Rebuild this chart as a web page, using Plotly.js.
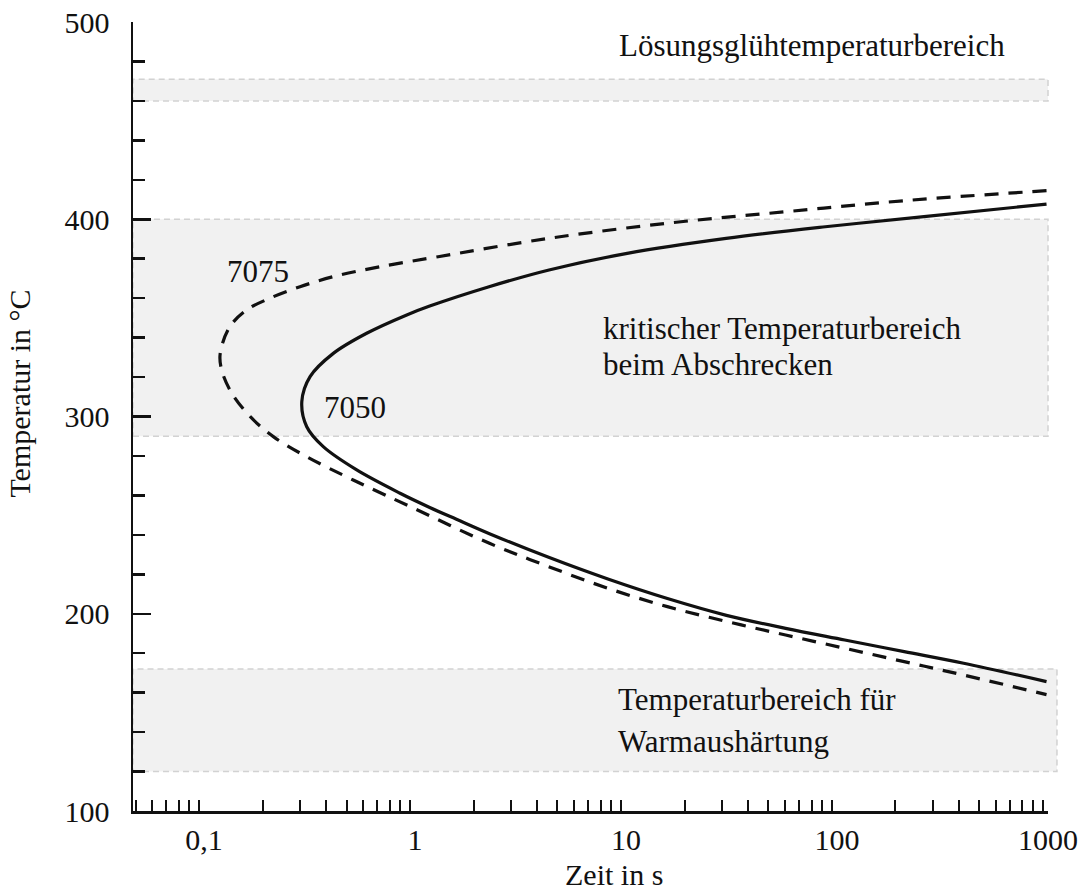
<!DOCTYPE html>
<html>
<head>
<meta charset="utf-8">
<script src="https://cdn.plot.ly/plotly-3.0.1.min.js"></script>
<style>
  html, body { margin: 0; padding: 0; background: #fff; }
  #chart { width: 1089px; height: 890px; }
</style>
</head>
<body>
<div id="chart"></div>
<script>
// ZTU-Nasenkurven (Ausscheidungsbeginn) der Legierungen 7050 und 7075
// Zeit in s, Temperatur in °C – Verlauf von oben rechts über die Nase nach unten rechts
const time7050 = [1040, 273, 93, 31.5, 10.7, 4.56, 2.37, 1.24, 0.965, 0.623, 0.433, 0.336, 0.307, 0.324, 0.388, 0.559, 0.897, 1.24, 1.66, 2.38, 4.54, 8.67, 16.6, 31.6, 60.3, 115, 220, 421, 1040];
const temp7050 = [407.7, 401.3, 396.2, 390.3, 382.7, 374.3, 365.8, 356.0, 351.5, 342.2, 332, 320.2, 307.5, 294.8, 284.7, 272.9, 261.1, 253.9, 247.9, 240.6, 228.6, 217.6, 207.7, 199.2, 192.6, 186.7, 180.8, 174.9, 165.6];

const time7075 = [1040, 220, 60.3, 16.6, 4.54, 1.36, 0.695, 0.433, 0.301, 0.217, 0.168, 0.140, 0.126, 0.128, 0.143, 0.175, 0.225, 0.324, 0.538, 1.04, 2.38, 4.54, 8.67, 16.6, 31.6, 60.3, 115, 220, 421, 1040];
const temp7075 = [414.5, 409.4, 403.8, 398, 390.3, 381.0, 375.6, 370.9, 365.8, 360, 354, 345.5, 332, 323.6, 311.8, 299.9, 289.8, 279.6, 267.8, 253.5, 235.7, 223.9, 212.9, 203.6, 196.1, 189.2, 182.5, 175.7, 168.9, 159];

// Temperaturbereiche (unten / oben, °C)
const bandNames = ["Lösungsglühen", "kritisch beim Abschrecken", "Warmaushärtung"];
const bandLow  = [460, 290, 120];
const bandHigh = [471, 400, 172];

// Achsenbeschriftung der logarithmischen Zeitachse
const decadeValues = [0.1, 1, 10, 100, 1000];
const decadeLabels = ["0,1", "1", "10", "100", "1000"];
const yTickValues = [100, 200, 300, 400, 500];

// alle Teilstriche 1..9 je Dekade, beschriftet nur die Dekaden
const xTickVals = [];
const xTickText = [];
[0.01, 0.1, 1, 10, 100].forEach(d => {
  for (let k = 1; k <= 9; k++) {
    const v = +(k * d).toPrecision(3);
    if (v < 0.05) continue;
    xTickVals.push(v);
    const idx = decadeValues.findIndex(dv => Math.abs(dv - v) < 1e-9);
    xTickText.push(idx >= 0 ? decadeLabels[idx] : "");
  }
});
xTickVals.push(1000);
xTickText.push(decadeLabels[4]);

const FONT = "Liberation Serif, Times New Roman, serif";
const INK = "#111111";

const traces = [
  {
    x: time7050, y: temp7050, name: "7050", type: "scatter", mode: "lines",
    line: { color: INK, width: 3.2, shape: "spline", smoothing: 1 },
    hoverinfo: "skip", showlegend: false
  },
  {
    x: time7075, y: temp7075, name: "7075", type: "scatter", mode: "lines",
    line: { color: INK, width: 3.2, dash: "14px,10px", shape: "spline", smoothing: 1 },
    hoverinfo: "skip", showlegend: false
  }
];

// Bandbreite rechts (Papierkoordinaten): unteres Band reicht etwas weiter
const bandRight = [1.0, 1.0, 1.0098];
const shapes = bandLow.map((lo, i) => ({
  type: "rect", layer: "below",
  xref: "paper", yref: "y",
  x0: 0, x1: bandRight[i], y0: lo, y1: bandHigh[i],
  fillcolor: "#f1f1f1",
  line: { color: "#d2d2d2", width: 1.5, dash: "6px,4px" }
}));

function note(text, x, y, extra) {
  return Object.assign({
    text: text, xref: "paper", yref: "paper", x: x, y: y,
    xanchor: "left", yanchor: "middle", showarrow: false,
    font: { family: FONT, size: 31, color: INK }
  }, extra || {});
}

const annotations = [
  note("Lösungsglühtemperaturbereich", 0.529, 0.9696),
  note("7075", 0.1005, 0.6844),
  note("7050", 0.2066, 0.5114),
  note("kritischer Temperaturbereich", 0.5115, 0.6109),
  note("beim Abschrecken", 0.5115, 0.5665),
  note("Temperaturbereich für", 0.528, 0.1407),
  note("Warmaushärtung", 0.528, 0.0875),
  note("Zeit in s", 0.5257, -0.0800, { xanchor: "center", font: { family: FONT, size: 30, color: INK } }),
  note("Temperatur in °C", -0.1235, 0.529, { xanchor: "center", textangle: -90, font: { family: FONT, size: 30, color: INK } })
];

const layout = {
  width: 1089, height: 890,
  margin: { l: 133, r: 41, t: 22, b: 79 },
  paper_bgcolor: "#ffffff", plot_bgcolor: "rgba(0,0,0,0)",
  font: { family: FONT, size: 30, color: INK },
  showlegend: false,
  xaxis: {
    type: "log",
    range: [-1.313, 3.024],
    showgrid: false, zeroline: false,
    showline: true, linecolor: INK, linewidth: 2.5,
    ticks: "inside", ticklen: 11, tickwidth: 2, tickcolor: INK,
    tickmode: "array", tickvals: xTickVals, ticktext: xTickText,
    ticklabelstandoff: 0, ticklabelshift: 5,
    tickfont: { family: FONT, size: 30, color: INK }
  },
  yaxis: {
    range: [100, 500],
    showgrid: false, zeroline: false,
    showline: true, linecolor: INK, linewidth: 2.5,
    ticks: "inside", ticklen: 18, tickwidth: 2.5, tickcolor: INK,
    tickmode: "array", tickvals: yTickValues,
    ticklabelstandoff: 15,
    tickfont: { family: FONT, size: 30, color: INK },
    minor: { dtick: 20, ticks: "inside", ticklen: 12, tickwidth: 2.5, tickcolor: INK, showgrid: false }
  },
  shapes: shapes,
  annotations: annotations
};

Plotly.newPlot("chart", traces, layout, { staticPlot: true, displayModeBar: false });
</script>
</body>
</html>
